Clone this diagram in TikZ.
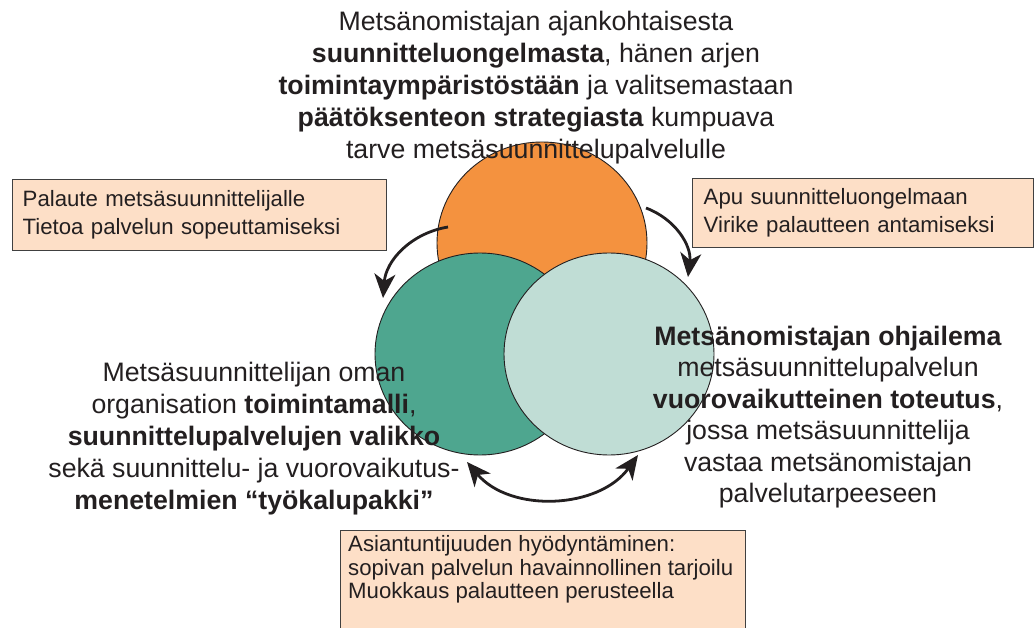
\documentclass[tikz,border=0pt]{standalone}
\usepackage{fontspec}
\setmainfont{Liberation Sans}
\usetikzlibrary{shapes.geometric,arrows.meta}

\definecolor{ink}{HTML}{231F20}
\definecolor{needfill}{HTML}{F4923F}
\definecolor{orgfill}{HTML}{4EA68F}
\definecolor{servfill}{HTML}{C0DDD5}
\definecolor{boxfill}{HTML}{FDDFC7}
\definecolor{boxline}{HTML}{404040}

\newcommand\lblfont{\fontsize{26.7pt}{32pt}\selectfont}
\newcommand\lblfontr{\fontsize{26.7pt}{31.5pt}\selectfont}
\newcommand\boxtxt{\fontsize{22.2pt}{28pt}\selectfont}
\newcommand\boxtxtb{\fontsize{22.2pt}{23.5pt}\selectfont}

\begin{document}
\begin{tikzpicture}[x=1pt,y=-1pt,
  disc/.style={ellipse, draw=ink, line width=0.9pt, inner sep=0pt,
    minimum width=210pt, minimum height=202pt},
  infobox/.style={rectangle, draw=boxline, fill=boxfill, line width=1.4pt,
    inner ysep=0pt, align=left, anchor=north west, text=ink, font=\boxtxt},
  bigtext/.style={align=center, inner sep=0pt, anchor=north, text=ink},
  tip/.tip={Stealth[length=24pt,width=21pt,inset=7pt]},
  flow/.style={line width=2.8pt, draw=ink, -tip},
  twoway/.style={line width=2.8pt, draw=ink, tip-tip},
]
\useasboundingbox (0,0) rectangle (1034,628);

% the three overlapping discs
\node (need) [disc, fill=needfill] at (542,243) {};
\node (org)  [disc, fill=orgfill]  at (480,354) {};
\node (serv) [disc, fill=servfill] at (609,354) {};

% feedback boxes
\node (feedback) [infobox, inner xsep=10pt, text width=354pt, minimum height=71pt]
  at (12,179) {Palaute metsäsuunnittelijalle\\Tietoa palvelun sopeuttamiseksi};
\node (help) [infobox, inner xsep=11pt, text width=319pt, minimum height=69pt]
  at (692,178) {Apu suunnitteluongelmaan\\Virike palautteen antamiseksi};
\node (expert) [infobox, inner sep=0pt, minimum width=405pt, minimum height=110pt]
  at (340,530) {};
\node (experttext) [anchor=north west, align=left, inner sep=0pt, text=ink, font=\boxtxtb]
  at (348,535.3) {Asiantuntijuuden hyödyntäminen:\\sopivan palvelun havainnollinen tarjoilu\\Muokkaus palautteen perusteella};

% descriptive texts
\node (needtext) [bigtext, font=\lblfont] at (536,11.3)
  {Metsänomistajan ajankohtaisesta\\
   \textbf{suunnitteluongelmasta}, hänen arjen\\
   \textbf{toimintaympäristöstään} ja valitsemastaan\\
   \textbf{päätöksenteon strategiasta} kumpuava\\
   tarve metsäsuunnittelupalvelulle};
\node (orgtext) [bigtext, font=\lblfont] at (254,361.6)
  {Metsäsuunnittelijan oman\\
   organisation \textbf{toimintamalli},\\
   \textbf{suunnittelupalvelujen valikko}\\
   sekä suunnittelu- ja vuorovaikutus-\\
   \textbf{menetelmien “työkalupakki”}};
\node (servtext) [bigtext, font=\lblfontr] at (828,325.6)
  {\textbf{Metsänomistajan ohjailema}\\
   metsäsuunnittelupalvelun\\
   \textbf{vuorovaikutteinen toteutus},\\
   jossa metsäsuunnittelija\\
   vastaa metsänomistajan\\
   palvelutarpeeseen};

% arrow end points
\coordinate (la) at (448,227);
\coordinate (lb) at (383,298);
\coordinate (ra) at (646,208);
\coordinate (rb) at (688,277);
\coordinate (ba) at (467,462);
\coordinate (bb) at (638,455);

\draw[flow] (la) to[bend right=38] (lb);
\draw[flow] (ra) to[bend left=38] (rb);
\draw[twoway] (ba) to[bend right=52] (bb);
\end{tikzpicture}
\end{document}
